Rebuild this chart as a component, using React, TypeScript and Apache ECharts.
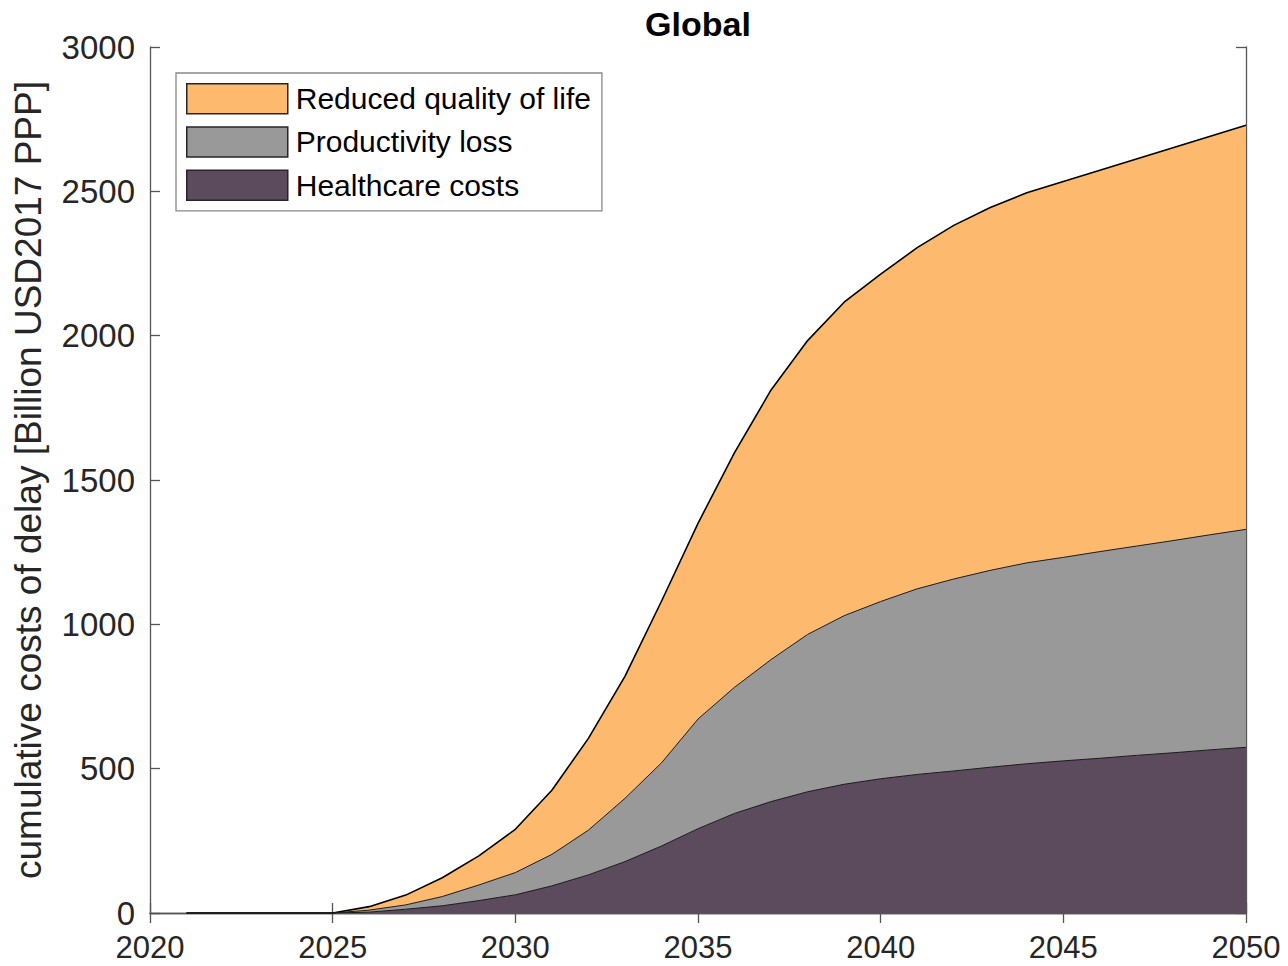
import { useEffect, useRef } from "react";
import * as echarts from "echarts";

const axisStartYear = 2020;
const years = [2021, 2022, 2023, 2024, 2025, 2026, 2027, 2028, 2029, 2030, 2031, 2032, 2033, 2034, 2035, 2036, 2037, 2038, 2039, 2040, 2041, 2042, 2043, 2044, 2045, 2046, 2047, 2048, 2049, 2050];
const healthcare = [0, 0, 0, 0, 0, 3, 13, 25, 43, 63, 94, 132, 178, 232, 292, 345, 386, 420, 446, 465, 480, 492, 505, 517, 527, 536, 546, 555, 565, 574];
const productivity = [0, 0, 0, 0, 0, 7, 15, 32, 54, 77, 109, 155, 219, 288, 380, 437, 492, 545, 584, 614, 643, 665, 682, 696, 705, 716, 725, 735, 745, 755];
const quality = [0, 0, 0, 0, 0, 12, 34, 65, 101, 150, 222, 318, 423, 560, 678, 813, 934, 1018, 1086, 1134, 1182, 1225, 1257, 1282, 1302, 1321, 1341, 1361, 1380, 1400];
const seriesNames = ["Healthcare costs", "Productivity loss", "Reduced quality of life"];
const legendOrder = ["Reduced quality of life", "Productivity loss", "Healthcare costs"];
const titleText = "Global";
const yTitle = "cumulative costs of delay [Billion USD2017 PPP]";

const COLORS: Record<string, string> = {
  "Healthcare costs": "#5C4A5D",
  "Productivity loss": "#999999",
  "Reduced quality of life": "#FDB96E",
};
const FONT = "'Liberation Sans', Arial, sans-serif";
const TXT = "#262626";
const AX = "#555555";

export default function App() {
  const ref = useRef<HTMLDivElement>(null);
  useEffect(() => {
    document.body.style.margin = "0";
    if (!ref.current) return;
    const chart = echarts.init(ref.current, null, { renderer: "svg" });
    const values = [healthcare, productivity, quality];
    const categories = [axisStartYear, ...years].map(String);
    const axisLine = { show: true, lineStyle: { color: AX, width: 1.3 } };
    const catTick = { show: true, inside: true, length: 10, interval: 4, lineStyle: { color: AX, width: 1.3 } };
    const valTick = { show: true, inside: true, length: 10, lineStyle: { color: AX, width: 1.3 } };
    chart.setOption({
      animation: false,
      backgroundColor: "#ffffff",
      textStyle: { fontFamily: FONT },
      title: {
        text: titleText,
        left: 693,
        top: 2,
        textAlign: "center",
        textStyle: { fontSize: 34, fontWeight: "bold", color: "#000", fontFamily: FONT },
      },
      grid: { left: 150, top: 47, width: 1096, height: 866, containLabel: false },
      legend: {
        orient: "vertical",
        left: 176,
        top: 73,
        padding: [10, 11, 10, 10],
        itemWidth: 101,
        itemHeight: 30,
        itemGap: 11.7,
        icon: "rect",
        borderColor: "#888888",
        borderWidth: 1.3,
        backgroundColor: "#ffffff",
        data: legendOrder.map((n) => ({
          name: n,
          icon: "rect",
          itemStyle: { color: COLORS[n], borderColor: "#262626", borderWidth: 1.5 },
        })),
        itemStyle: { borderColor: "#262626", borderWidth: 1.5 },
        textStyle: { fontSize: 30, lineHeight: 30, color: "#000", fontFamily: FONT, padding: [0, 0, 0, 3] },
      },
      xAxis: [
        {
          type: "category",
          data: categories,
          boundaryGap: false,
          position: "bottom",
          axisLine,
          axisTick: catTick,
          splitLine: { show: false },
          axisLabel: { interval: 4, fontSize: 31, lineHeight: 28, color: TXT, margin: 20, fontFamily: FONT },
        },
        {
          type: "category",
          data: categories,
          boundaryGap: false,
          position: "top",
          axisLine,
          axisTick: catTick,
          splitLine: { show: false },
          axisLabel: { show: false },
        },
      ],
      yAxis: [
        {
          type: "value",
          min: 0,
          max: 3000,
          interval: 500,
          position: "left",
          axisLine,
          axisTick: valTick,
          splitLine: { show: false },
          axisLabel: { fontSize: 33, color: TXT, margin: 15, fontFamily: FONT, formatter: (v: number) => String(v) },
          name: yTitle,
          nameLocation: "middle",
          nameRotate: 90,
          nameGap: 103,
          nameTextStyle: { fontSize: 37, color: TXT, fontFamily: FONT },
        },
        {
          type: "value",
          min: 0,
          max: 3000,
          interval: 500,
          position: "right",
          axisLine,
          axisTick: valTick,
          splitLine: { show: false },
          axisLabel: { show: false },
        },
      ],
      series: seriesNames.map((name, i) => ({
        name,
        type: "line",
        stack: "total",
        xAxisIndex: 0,
        yAxisIndex: 0,
        z: 5 - i,
        showSymbol: false,
        symbol: "none",
        color: COLORS[name],
        lineStyle: { color: i === 2 ? "#000000" : "#1a1a1a", width: i === 2 ? 1.6 : 1 },
        areaStyle: { color: COLORS[name], opacity: 1 },
        data: ["-", ...values[i]],
      })),
    });
    return () => chart.dispose();
  }, []);
  return <div ref={ref} style={{ width: 1288, height: 966 }} />;
}
